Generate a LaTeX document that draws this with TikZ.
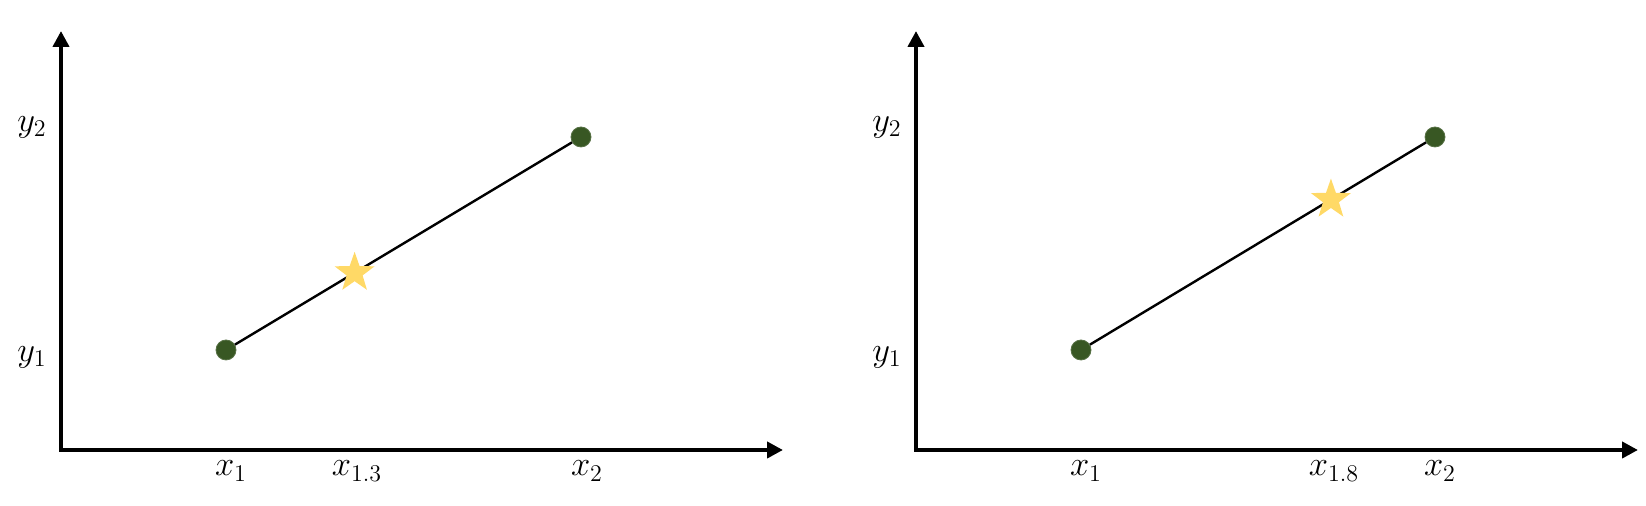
\documentclass[tikz,border=0pt]{standalone}
\usetikzlibrary{arrows.meta,shapes.geometric}
\definecolor{dotgreen}{RGB}{56,87,35}
\definecolor{staryellow}{RGB}{255,217,102}

\begin{document}
\begin{tikzpicture}[x=0.5pt,y=-0.5pt,
 axis/.style={line width=2.3pt,line cap=rect,-{Triangle[length=8pt,width=8pt]}},
 dot/.style={circle,fill=dotgreen,draw=dotgreen!85!white,minimum size=10pt,inner sep=0pt},
 starmark/.style={star,star points=5,star point ratio=2.5,fill=staryellow,minimum size=21pt,inner sep=0pt},
 lbl/.style={font=\fontsize{18}{21}\selectfont}]
\useasboundingbox (0,0) rectangle (1646,506);
% left panel
\coordinate (lo) at (61,450);
\coordinate (ly) at (61,31);
\coordinate (lx) at (783,450);
\draw[axis] (lo)--(ly);
\draw[axis] (lo)--(lx);
\node[dot] (la) at (226,350) {};
\node[dot] (lb) at (581,137) {};
\draw[line width=1.2pt] (la)--(lb) node[starmark,pos=0.355] (ls) {};
\node[lbl] (ly1) at (32,357) {$y_1$};
\node[lbl] (ly2) at (32,127) {$y_2$};
\node[lbl] (lx1) at (231,471) {$x_1$};
\node[lbl] (lxs) at (357,471) {$x_{1.3}$};
\node[lbl] (lx2) at (587,471) {$x_2$};
% right panel
\coordinate (ro) at (916,450);
\coordinate (ry) at (916,31);
\coordinate (rx) at (1638,450);
\draw[axis] (ro)--(ry);
\draw[axis] (ro)--(rx);
\node[dot] (ra) at (1081,350) {};
\node[dot] (rb) at (1435,137) {};
\draw[line width=1.2pt] (ra)--(rb) node[starmark,pos=0.717] (rs) {};
\node[lbl] (ry1) at (887,357) {$y_1$};
\node[lbl] (ry2) at (887,127) {$y_2$};
\node[lbl] (rx1) at (1086,471) {$x_1$};
\node[lbl] (rxs) at (1334,471) {$x_{1.8}$};
\node[lbl] (rx2) at (1440,471) {$x_2$};
\end{tikzpicture}
\end{document}
